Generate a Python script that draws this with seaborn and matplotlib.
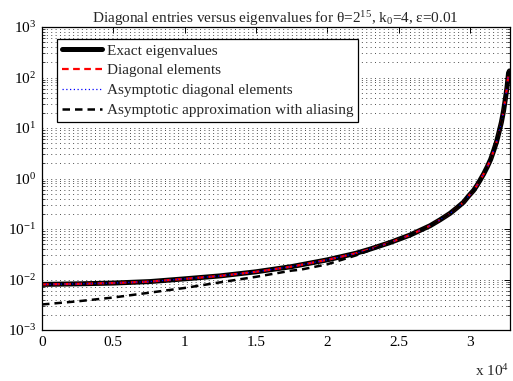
import numpy as np
import pandas as pd
import seaborn as sns
import matplotlib
matplotlib.use("Agg")
import matplotlib.pyplot as plt
from matplotlib.ticker import LogLocator, FixedLocator, NullFormatter

# ---- data ----
x_exact = [0, 2500, 5000, 7570, 10000, 12500, 15000, 17500, 20000, 22000, 23000, 24400,
           25800, 26500, 27200, 27900, 28600, 29100, 29550, 29900, 30250, 30500, 30700,
           30950, 31200, 31450, 31650, 31850, 32000, 32200, 32350, 32480, 32590, 32650,
           32700, 32767]
y_exact = [0.0080, 0.0082, 0.0085, 0.0091, 0.0103, 0.0118, 0.0142, 0.0180, 0.0245, 0.033,
           0.040, 0.054, 0.076, 0.094, 0.116, 0.152, 0.204, 0.265, 0.34, 0.45, 0.58, 0.74,
           0.92, 1.22, 1.68, 2.4, 3.5, 5.2, 7.6, 13, 21.8, 38, 63, 90, 123, 135]
y_diag = list(y_exact)
y_asym = list(y_exact)
x_alias = [0, 2500, 5000, 7570, 10000, 12500, 15000, 17500, 18100, 20000, 22000, 23000,
           24400, 25800, 26500, 27200, 27900, 28600, 29100, 29550, 29900, 30250, 30500,
           30700, 30950, 31200, 31450, 31650, 31850, 32000, 32200, 32350, 32480, 32590,
           32650, 32700, 32767]
y_alias = [0.0032, 0.0037, 0.0044, 0.0055, 0.0068, 0.0088, 0.0113, 0.0150, 0.0156, 0.0200,
           0.0300, 0.038, 0.053, 0.076, 0.094, 0.116, 0.152, 0.204, 0.265, 0.34, 0.45,
           0.58, 0.74, 0.92, 1.22, 1.68, 2.4, 3.5, 5.2, 7.6, 13, 21.8, 38, 63, 90, 123, 135]
labels = ["Exact eigenvalues", "Diagonal elements", "Asymptotic diagonal elements",
          "Asymptotic approximation with aliasing"]
x_ticks = [0, 5000, 10000, 15000, 20000, 25000, 30000]
x_tick_labels = ["0", "0.5", "1", "1.5", "2", "2.5", "3"]
y_ticks = [1e-3, 1e-2, 1e-1, 1e0, 1e1, 1e2, 1e3]
y_tick_labels = [r"$10^{-3}$", r"$10^{-2}$", r"$10^{-1}$", r"$10^{0}$", r"$10^{1}$",
                 r"$10^{2}$", r"$10^{3}$"]
title = r"Diagonal entries versus eigenvalues for θ=2$^{15}$, k$_{0}$=4, ε=0.01"

sns.set_theme(style="white")
plt.rcParams["font.family"] = ["Liberation Serif", "DejaVu Serif"]
plt.rcParams["mathtext.fontset"] = "custom"
plt.rcParams["mathtext.rm"] = "Liberation Serif"
plt.rcParams["mathtext.it"] = "Liberation Serif:italic"
plt.rcParams["mathtext.bf"] = "Liberation Serif:bold"

fig = plt.figure(figsize=(5.13, 3.81), dpi=100)
ax = fig.add_axes([42 / 513, 1 - 330 / 381, (509.5 - 42) / 513, (330 - 27) / 381])

df_exact = pd.DataFrame({"x": x_exact, "y": y_exact})
df_diag = pd.DataFrame({"x": x_exact, "y": y_diag})
df_asym = pd.DataFrame({"x": x_exact, "y": y_asym})
df_alias = pd.DataFrame({"x": x_alias, "y": y_alias})

sns.lineplot(data=df_exact, x="x", y="y", ax=ax, color="black", lw=3.6, label=labels[0],
             estimator=None, sort=False)
ax.lines[-1].set_solid_joinstyle("round")
sns.lineplot(data=df_diag, x="x", y="y", ax=ax, color="red", lw=1.6, label=labels[1],
             estimator=None, sort=False)
ax.lines[-1].set_linestyle((0, (3, 2)))
sns.lineplot(data=df_asym, x="x", y="y", ax=ax, color="blue", lw=0.9, label=labels[2],
             estimator=None, sort=False)
ax.lines[-1].set_linestyle((0, (1, 2)))
sns.lineplot(data=df_alias, x="x", y="y", ax=ax, color="black", lw=1.8, label=labels[3],
             estimator=None, sort=False)
ax.lines[-1].set_linestyle((0, (3, 2)))

ax.set_yscale("log")
ax.set_xlim(0, 32768)
ax.set_ylim(1e-3, 1e3)
ax.xaxis.set_major_locator(FixedLocator(x_ticks))
ax.set_xticklabels(x_tick_labels)
ax.yaxis.set_major_locator(FixedLocator(y_ticks))
ax.set_yticklabels(y_tick_labels)
ax.yaxis.set_minor_locator(LogLocator(base=10, subs=np.arange(2, 10), numticks=20))
ax.yaxis.set_minor_formatter(NullFormatter())
ax.set_xlabel("")
ax.set_ylabel("")

ax.yaxis.grid(True, which="both", linestyle=(0, (1, 3.5)), color="0.3", lw=0.7)
ax.xaxis.grid(False)
ax.tick_params(axis="both", which="major", direction="in", top=True, right=True,
               length=4, width=0.7, labelsize=11, colors="black", pad=4)
ax.tick_params(axis="y", which="minor", direction="in", left=True, right=True,
               length=2, width=0.6)
for s in ax.spines.values():
    s.set_color("black")
    s.set_linewidth(0.9)

ax.set_title(title, fontsize=11, pad=3)
ax.text(1.0, -0.152, r"x 10$^{4}$", transform=ax.transAxes, ha="right", va="baseline",
        fontsize=11)

leg = ax.legend(loc="upper left", bbox_to_anchor=(0.032, 0.962), fontsize=11,
                frameon=True, fancybox=False, edgecolor="black", framealpha=1,
                borderpad=0.35, labelspacing=0.4, handlelength=2.6, handletextpad=0.3,
                borderaxespad=0)
leg.get_frame().set_linewidth(0.9)

fig.savefig("out.png", dpi=100)
